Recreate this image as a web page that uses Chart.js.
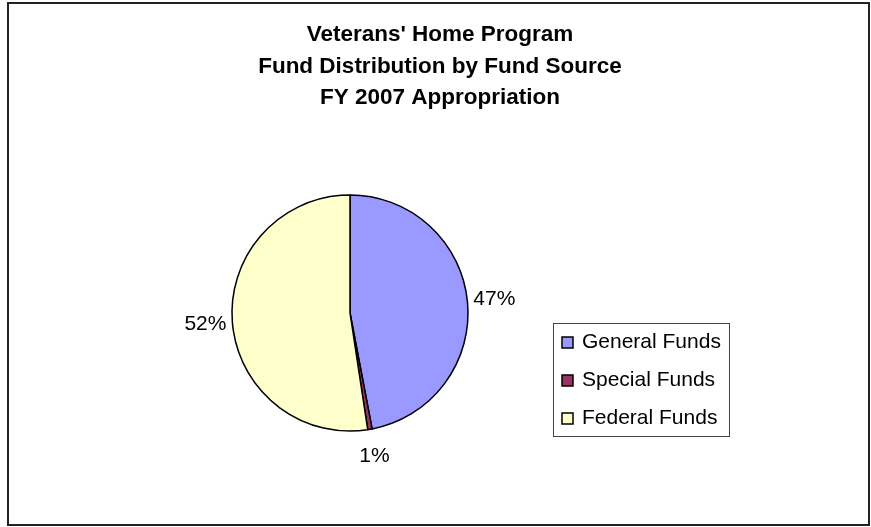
<!DOCTYPE html>
<html>
<head>
<meta charset="utf-8">
<title>Veterans' Home Program - Fund Distribution</title>
<script src="https://cdn.jsdelivr.net/npm/chart.js@4.4.1/dist/chart.umd.min.js"></script>
<style>
  html, body { margin: 0; padding: 0; background: #fff; }
  canvas { display: block; }
</style>
</head>
<body>
<canvas id="chartFunds" width="871" height="527"></canvas>
<script>
// Data dari gambar (persen per sumber dana)
const titleLines = ["Veterans' Home Program", 'Fund Distribution by Fund Source', 'FY 2007 Appropriation'];
const fundLabels = ['General Funds', 'Special Funds', 'Federal Funds'];
const fundValues = [47.0, 0.6, 52.4];
const pctLabels = ['47%', '1%', '52%'];
const fundColors = ['#9999FF', '#993366', '#FFFFCC'];

const FONT = '"Liberation Sans", Arial, sans-serif';

// Plugin: latar putih, bingkai, judul, label persen dan legenda berbingkai
const decorPlugin = {
  id: 'decor',
  beforeDraw(chart) {
    const ctx = chart.ctx;
    ctx.save();
    ctx.fillStyle = '#fff';
    ctx.fillRect(0, 0, chart.width, chart.height);
    ctx.restore();
  },
  afterDatasetsDraw(chart) {
    const ctx = chart.ctx;
    ctx.save();

    // bingkai luar
    ctx.strokeStyle = '#222';
    ctx.lineWidth = 2;
    ctx.strokeRect(8, 3, 861, 522);

    // judul
    ctx.fillStyle = '#000';
    ctx.font = 'bold 22.5px ' + FONT;
    ctx.textAlign = 'center';
    ctx.textBaseline = 'alphabetic';
    titleLines.forEach((line, i) => {
      ctx.fillText(line, 440, 41 + i * 31.5);
    });

    // label persen di luar irisan
    const meta = chart.getDatasetMeta(0);
    ctx.font = '21px ' + FONT;
    ctx.textBaseline = 'middle';
    meta.data.forEach((arc, i) => {
      const p = arc.getProps(['x', 'y', 'startAngle', 'endAngle', 'outerRadius'], true);
      const mid = (p.startAngle + p.endAngle) / 2;
      const dist = p.outerRadius + 27;
      ctx.fillText(pctLabels[i], p.x + Math.cos(mid) * dist, p.y + Math.sin(mid) * dist);
    });

    // legenda
    ctx.strokeStyle = '#444';
    ctx.lineWidth = 1;
    ctx.strokeRect(553.5, 323.5, 176, 113);
    ctx.textAlign = 'left';
    ctx.textBaseline = 'alphabetic';
    fundLabels.forEach((label, i) => {
      const base = 348 + i * 38;
      ctx.fillStyle = fundColors[i];
      ctx.fillRect(562, base - 11, 11, 11);
      ctx.strokeStyle = '#000';
      ctx.lineWidth = 1.5;
      ctx.strokeRect(562, base - 11, 11, 11);
      ctx.fillStyle = '#000';
      ctx.fillText(label, 582, base);
    });

    ctx.restore();
  }
};

function initChart() {
  const ctx = document.getElementById('chartFunds').getContext('2d');
  new Chart(ctx, {
    type: 'pie',
    data: {
      labels: fundLabels,
      datasets: [{
        data: fundValues,
        backgroundColor: fundColors,
        borderColor: '#000',
        borderWidth: 1.5
      }]
    },
    options: {
      responsive: false,
      animation: false,
      radius: 118,
      // area chart dipusatkan di (350, 313)
      layout: { padding: { left: 200, right: 371, top: 183, bottom: 84 } },
      plugins: {
        legend: { display: false },
        title: { display: false },
        tooltip: { enabled: false }
      }
    },
    plugins: [decorPlugin]
  });
}

initChart();
</script>
</body>
</html>
